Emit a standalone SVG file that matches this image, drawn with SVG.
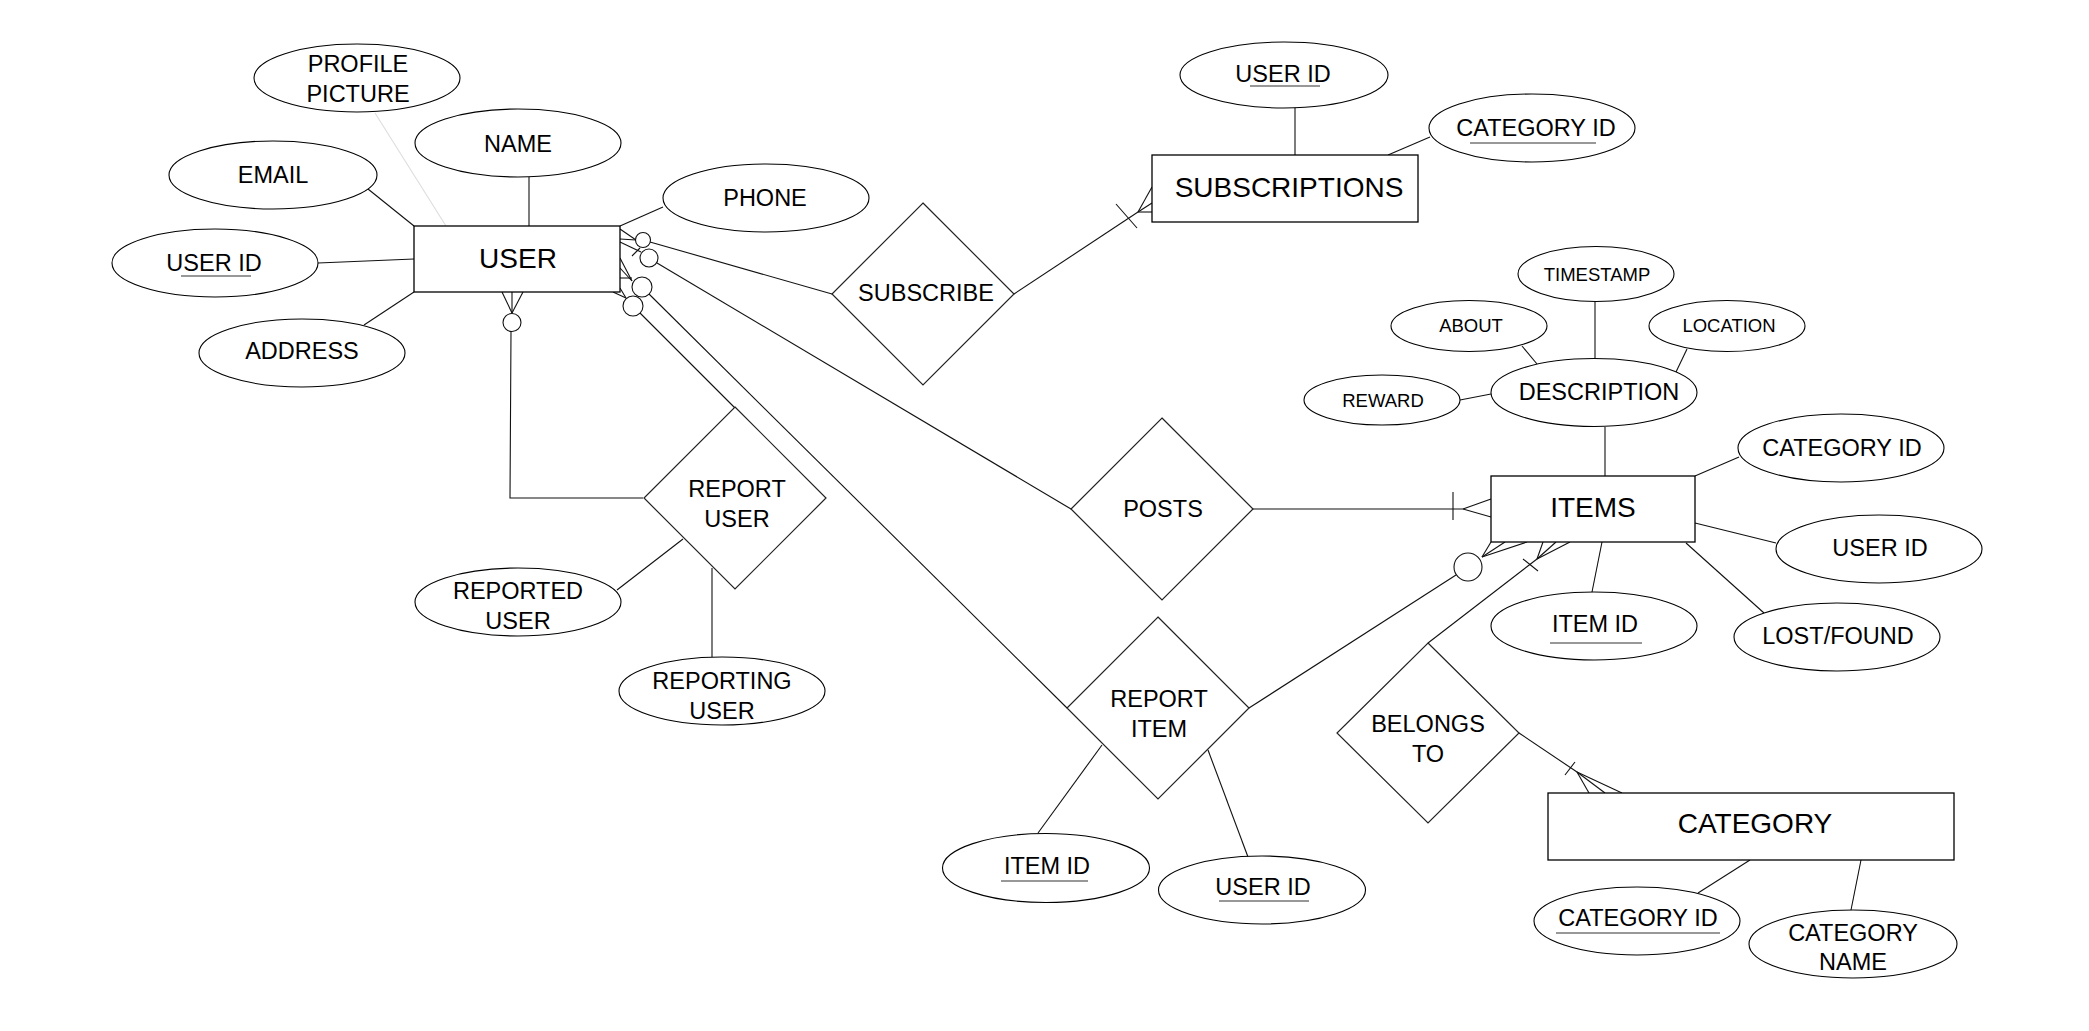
<svg xmlns="http://www.w3.org/2000/svg" width="2089" height="1031" viewBox="0 0 2089 1031">
<style>
.bg{fill:#fff}
.ent{fill:#fff;stroke:#000;stroke-width:1.3}
.attr{fill:#fff;stroke:#000;stroke-width:1.1}
.rel{fill:#fff;stroke:#222;stroke-width:1.2}
.c line,.c polyline{stroke:#111;stroke-width:1.1;fill:none}
.c circle{fill:#fff;stroke:#111;stroke-width:1.1}
.faint{stroke:#ddd !important}
text{font-family:"Liberation Sans",Arial,sans-serif;fill:#000;text-anchor:middle}
.t28{font-size:28px}
.t23{font-size:23.5px}
.t18{font-size:18.5px}
.ul{stroke:#333;stroke-width:1.2}
</style>
<rect class="bg" x="0" y="0" width="2089" height="1031"/>

<g id="connectors" class="c">
  <line class="faint" x1="375" y1="113" x2="446" y2="226"/>
  <line x1="368" y1="189" x2="414" y2="226"/>
  <line x1="529" y1="177" x2="529" y2="226"/>
  <line x1="318" y1="263" x2="414" y2="259"/>
  <line x1="364" y1="325" x2="414" y2="292"/>
  <line x1="620" y1="226" x2="663" y2="207"/>
  <!-- USER -> SUBSCRIBE -->
  <line x1="620" y1="229" x2="636" y2="240"/>
  <line x1="620" y1="239" x2="636" y2="240"/>
  <circle cx="643" cy="240" r="7.5"/>
  <line x1="650" y1="242" x2="832" y2="294"/>
  <!-- USER -> POSTS -->
  <line x1="620" y1="242" x2="641" y2="252"/>
  <line x1="632" y1="256" x2="640" y2="248"/>
  <circle cx="649" cy="258" r="9"/>
  <line x1="657" y1="263" x2="1071" y2="509"/>
  <!-- USER -> REPORT ITEM -->
  <line x1="620" y1="258" x2="632" y2="281"/>
  <line x1="620" y1="268" x2="632" y2="281"/>
  <line x1="620" y1="278" x2="632" y2="278"/>
  <circle cx="642" cy="287" r="10"/>
  <line x1="649" y1="294" x2="1067" y2="708"/>
  <!-- USER -> REPORT USER (top) -->
  <line x1="613" y1="292" x2="626" y2="298"/>
  <line x1="620" y1="288" x2="626" y2="298"/>
  <circle cx="633" cy="306" r="10"/>
  <line x1="640" y1="313" x2="735" y2="408"/>
  <!-- USER bottom -> REPORT USER -->
  <line x1="502" y1="292" x2="512" y2="313"/>
  <line x1="512" y1="292" x2="512" y2="313"/>
  <line x1="523" y1="292" x2="512" y2="313"/>
  <circle cx="512" cy="322.5" r="9"/>
  <polyline points="511,331.5 510,498 643,498"/>
  <!-- SUBSCRIBE -> SUBSCRIPTIONS -->
  <line x1="1014" y1="294" x2="1138" y2="212"/>
  <line x1="1138" y1="212" x2="1152" y2="187"/>
  <line x1="1138" y1="212" x2="1152" y2="203"/>
  <line x1="1138" y1="212" x2="1152" y2="212"/>
  <line x1="1116" y1="204" x2="1137" y2="228"/>
  <line x1="1295" y1="107" x2="1295" y2="155"/>
  <line x1="1430" y1="137" x2="1388" y2="155"/>
  <!-- POSTS -> ITEMS -->
  <line x1="1253" y1="509" x2="1463" y2="509"/>
  <line x1="1463" y1="509" x2="1491" y2="499"/>
  <line x1="1463" y1="509" x2="1491" y2="517"/>
  <line x1="1453" y1="492" x2="1453" y2="520"/>
  <!-- REPORT ITEM -> ITEMS -->
  <line x1="1249" y1="708" x2="1456" y2="575"/>
  <circle cx="1468" cy="567" r="14"/>
  <line x1="1482" y1="557" x2="1491" y2="542"/>
  <line x1="1482" y1="557" x2="1505" y2="542"/>
  <line x1="1482" y1="557" x2="1527" y2="542"/>
  <!-- BELONGS TO -> ITEMS -->
  <line x1="1428" y1="643" x2="1537" y2="559"/>
  <line x1="1537" y1="559" x2="1543" y2="542"/>
  <line x1="1537" y1="559" x2="1556" y2="542"/>
  <line x1="1537" y1="559" x2="1570" y2="542"/>
  <line x1="1523" y1="559" x2="1538" y2="571"/>
  <!-- BELONGS TO -> CATEGORY -->
  <line x1="1519" y1="733" x2="1577" y2="772"/>
  <line x1="1577" y1="772" x2="1589" y2="793"/>
  <line x1="1577" y1="772" x2="1605" y2="793"/>
  <line x1="1577" y1="772" x2="1622" y2="793"/>
  <line x1="1565" y1="775" x2="1575" y2="762"/>
  <!-- attributes -->
  <line x1="683" y1="539" x2="617" y2="590"/>
  <line x1="712" y1="568" x2="712" y2="657"/>
  <line x1="1102" y1="745" x2="1038" y2="833"/>
  <line x1="1208" y1="750" x2="1248" y2="857"/>
  <line x1="1522" y1="346" x2="1537" y2="364"/>
  <line x1="1595" y1="302" x2="1595" y2="358"/>
  <line x1="1687" y1="349" x2="1676" y2="372"/>
  <line x1="1460" y1="400" x2="1491" y2="394"/>
  <line x1="1605" y1="427" x2="1605" y2="476"/>
  <line x1="1695" y1="476" x2="1739" y2="457"/>
  <line x1="1695" y1="523" x2="1776" y2="543"/>
  <line x1="1602" y1="542" x2="1592" y2="592"/>
  <line x1="1686" y1="543" x2="1764" y2="613"/>
  <line x1="1750" y1="860" x2="1698" y2="893"/>
  <line x1="1861" y1="860" x2="1851" y2="910"/>
</g>

<!-- entities -->
<g id="n-user"><rect class="ent" x="414" y="226" width="206" height="66"/><text class="t28" x="518" y="268">USER</text></g>
<g id="n-subscriptions"><rect class="ent" x="1152" y="155" width="266" height="67"/><text class="t28" x="1289" y="197">SUBSCRIPTIONS</text></g>
<g id="n-items"><rect class="ent" x="1491" y="476" width="204" height="66"/><text class="t28" x="1593" y="517">ITEMS</text></g>
<g id="n-category"><rect class="ent" x="1548" y="793" width="406" height="67"/><text class="t28" x="1755" y="833">CATEGORY</text></g>

<!-- relationships -->
<g id="n-subscribe"><polygon class="rel" points="923,203 1014,294 923,385 832,294"/><text class="t23" x="926" y="301">SUBSCRIBE</text></g>
<g id="n-posts"><polygon class="rel" points="1162,418 1253,509 1162,600 1071,509"/><text class="t23" x="1163" y="517">POSTS</text></g>
<g id="n-report-user"><polygon class="rel" points="735,407 826,498 735,589 644,498"/><text class="t23" x="737" y="497">REPORT</text><text class="t23" x="737" y="527">USER</text></g>
<g id="n-report-item"><polygon class="rel" points="1158,617 1249,708 1158,799 1067,708"/><text class="t23" x="1159" y="707">REPORT</text><text class="t23" x="1159" y="737">ITEM</text></g>
<g id="n-belongs-to"><polygon class="rel" points="1428,643 1519,733 1428,823 1337,733"/><text class="t23" x="1428" y="732">BELONGS</text><text class="t23" x="1428" y="762">TO</text></g>

<!-- attributes -->
<g id="n-profile-picture"><ellipse class="attr" cx="357" cy="78" rx="103" ry="34"/><text class="t23" x="358" y="72">PROFILE</text><text class="t23" x="358" y="102">PICTURE</text></g>
<g id="n-name"><ellipse class="attr" cx="518" cy="143" rx="103" ry="34"/><text class="t23" x="518" y="151.5">NAME</text></g>
<g id="n-email"><ellipse class="attr" cx="273" cy="175" rx="104" ry="34"/><text class="t23" x="273" y="183">EMAIL</text></g>
<g id="n-user-id"><ellipse class="attr" cx="215" cy="263" rx="103" ry="34"/><text class="t23" x="214" y="271">USER ID</text><line class="ul" x1="181" y1="276" x2="251" y2="276"/></g>
<g id="n-address"><ellipse class="attr" cx="302" cy="353" rx="103" ry="34"/><text class="t23" x="302" y="359">ADDRESS</text></g>
<g id="n-phone"><ellipse class="attr" cx="766" cy="198" rx="103" ry="34"/><text class="t23" x="765" y="206">PHONE</text></g>

<g id="n-sub-user-id"><ellipse class="attr" cx="1284" cy="75" rx="104" ry="33"/><text class="t23" x="1283" y="82">USER ID</text><line class="ul" x1="1250" y1="86" x2="1320" y2="86"/></g>
<g id="n-sub-category-id"><ellipse class="attr" cx="1532" cy="128" rx="103" ry="34"/><text class="t23" x="1536" y="136">CATEGORY ID</text><line class="ul" x1="1470" y1="143" x2="1596" y2="143"/></g>

<g id="n-timestamp"><ellipse class="attr" cx="1596" cy="274" rx="78" ry="27.5"/><text class="t18" x="1597" y="281">TIMESTAMP</text></g>
<g id="n-about"><ellipse class="attr" cx="1469" cy="326" rx="78" ry="25.5"/><text class="t18" x="1471" y="332">ABOUT</text></g>
<g id="n-location"><ellipse class="attr" cx="1727" cy="326" rx="78" ry="25.5"/><text class="t18" x="1729" y="332">LOCATION</text></g>
<g id="n-reward"><ellipse class="attr" cx="1382" cy="400" rx="78" ry="25"/><text class="t18" x="1383" y="406.5">REWARD</text></g>
<g id="n-description"><ellipse class="attr" cx="1594" cy="392.5" rx="103" ry="34"/><text class="t23" x="1599" y="400">DESCRIPTION</text></g>

<g id="n-items-category-id"><ellipse class="attr" cx="1841" cy="448" rx="103" ry="34"/><text class="t23" x="1842" y="456">CATEGORY ID</text></g>
<g id="n-items-user-id"><ellipse class="attr" cx="1879" cy="549" rx="103" ry="34"/><text class="t23" x="1880" y="556">USER ID</text></g>
<g id="n-items-item-id"><ellipse class="attr" cx="1594" cy="626" rx="103" ry="34"/><text class="t23" x="1595" y="632">ITEM ID</text><line class="ul" x1="1550" y1="643" x2="1642" y2="643"/></g>
<g id="n-lost-found"><ellipse class="attr" cx="1837" cy="637" rx="103" ry="34"/><text class="t23" x="1838" y="644">LOST/FOUND</text></g>

<g id="n-reported-user"><ellipse class="attr" cx="518" cy="602" rx="103" ry="34"/><text class="t23" x="518" y="599">REPORTED</text><text class="t23" x="518" y="629">USER</text></g>
<g id="n-reporting-user"><ellipse class="attr" cx="722" cy="691" rx="103" ry="34"/><text class="t23" x="722" y="689">REPORTING</text><text class="t23" x="722" y="719">USER</text></g>

<g id="n-ri-item-id"><ellipse class="attr" cx="1046" cy="868" rx="103.5" ry="34.5"/><text class="t23" x="1047" y="874">ITEM ID</text><line class="ul" x1="1001" y1="881" x2="1088" y2="881"/></g>
<g id="n-ri-user-id"><ellipse class="attr" cx="1262" cy="890" rx="103.5" ry="34"/><text class="t23" x="1263" y="895">USER ID</text><line class="ul" x1="1219" y1="901" x2="1309" y2="901"/></g>

<g id="n-cat-category-id"><ellipse class="attr" cx="1637" cy="921" rx="103" ry="34"/><text class="t23" x="1638" y="926">CATEGORY ID</text><line class="ul" x1="1556" y1="933" x2="1720" y2="933"/></g>
<g id="n-category-name"><ellipse class="attr" cx="1853" cy="944" rx="104" ry="34"/><text class="t23" x="1853" y="941">CATEGORY</text><text class="t23" x="1853" y="970">NAME</text></g>
</svg>
